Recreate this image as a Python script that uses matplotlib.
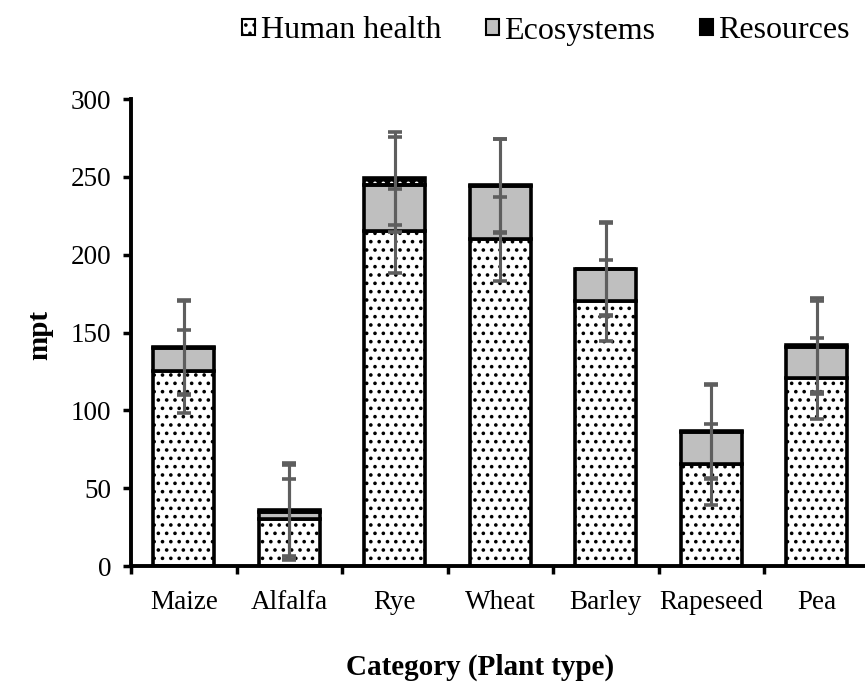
import matplotlib
matplotlib.use("Agg")
import matplotlib.pyplot as plt
from matplotlib.patches import Patch
import numpy as np

categories = ["Maize", "Alfalfa", "Rye", "Wheat", "Barley", "Rapeseed", "Pea"]
human_health = [125, 30, 215, 210, 170.5, 65.5, 120.5]
ecosystems = [15, 4.7, 30, 34, 20, 20.5, 20]
resources = [0.6, 1.5, 4, 0.6, 0.6, 0.6, 1.5]
hh_err = [26.5, 26, 27, 27, 26, 26, 26]
eco_err = [30, 30, 30.5, 30, 30, 30, 30]
res_err = [30, 30, 30, 30, 30, 30, 30]
yticks = [0, 50, 100, 150, 200, 250, 300]

plt.rcParams['font.family'] = ['Liberation Serif', 'DejaVu Serif']
plt.rcParams['hatch.linewidth'] = 1.4

fig = plt.figure(figsize=(8.65, 6.82), dpi=100)
ax = fig.add_axes([131/865, 116/682, 738.5/865, 467/682])

x = np.arange(len(categories))
w = 0.58
hh = np.array(human_health)
eco = np.array(ecosystems)
res = np.array(resources)
gray = '#bfbfbf'
ecol = '#5e5e5e'
lw = 2.6

ax.bar(x, hh, w, facecolor='white', edgecolor='black', hatch='..', linewidth=0, zorder=2)
ax.bar(x, hh, w, facecolor='none', edgecolor='black', linewidth=lw, zorder=3)
ax.bar(x, eco, w, bottom=hh, facecolor=gray, edgecolor='black', linewidth=lw, zorder=3)
ax.bar(x, res, w, bottom=hh + eco, facecolor='black', edgecolor='white', hatch='..', linewidth=0, zorder=2)
ax.bar(x, res, w, bottom=hh + eco, facecolor='none', edgecolor='black', linewidth=lw, zorder=3)

ekw = dict(fmt='none', ecolor=ecol, elinewidth=2.2, capsize=5, capthick=2.6, zorder=5)
ax.errorbar(x, hh, yerr=hh_err, **ekw)
ax.errorbar(x, hh + eco, yerr=eco_err, **ekw)
ax.errorbar(x, hh + eco + res, yerr=res_err, **ekw)

ax.set_xlim(-0.5, 6.5)
ax.set_ylim(0, 300)
ax.set_yticks(yticks)
ax.set_yticklabels([str(v) for v in yticks], fontsize=19.5)
ax.set_xticks(x)
ax.set_xticklabels(categories, fontsize=19.5)
ax.set_xticks(np.arange(-0.5, 6.6, 1), minor=True)
ax.tick_params(axis='x', which='major', length=0, pad=17)
ax.tick_params(axis='x', which='minor', length=6, width=2.5, direction='out')
ax.tick_params(axis='y', which='major', length=6, width=2.5, direction='out', pad=8)
for s in ['top', 'right']:
    ax.spines[s].set_visible(False)
for s in ['left', 'bottom']:
    ax.spines[s].set_linewidth(2.8)

fig.text(480/865, 1 - 667/682, "Category (Plant type)", ha='center', va='center',
         fontsize=21, fontweight='bold')
fig.text(40/865, 1 - 335/682, "mpt", ha='center', va='center', rotation=90,
         fontsize=21, fontweight='bold')

handles = [
    Patch(facecolor='white', edgecolor='black', hatch='..', linewidth=1.5),
    Patch(facecolor=gray, edgecolor='black', linewidth=1.5),
    Patch(facecolor='black', edgecolor='black', linewidth=1.5),
]
fig.legend(handles, ["Human health", "Ecosystems", "Resources"], loc='center',
           bbox_to_anchor=(546/865, 1 - 31/682), ncol=3, frameon=False, fontsize=23,
           handlelength=0.42, handleheight=0.42, handletextpad=0.16, columnspacing=1.4,
           borderpad=0.1)

fig.savefig("out.png", dpi=100)
